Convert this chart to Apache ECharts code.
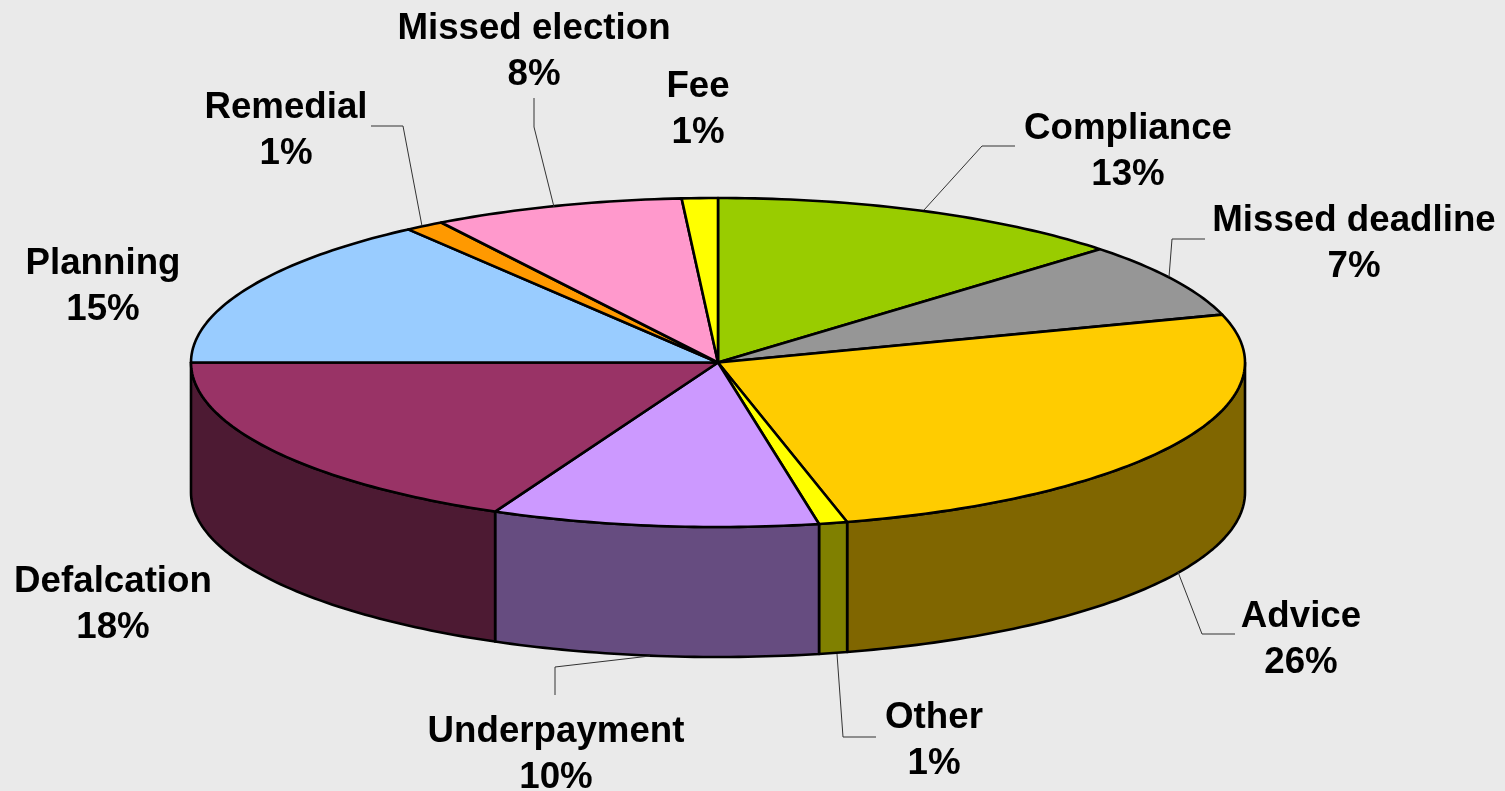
<!DOCTYPE html>
<html>
<head>
<meta charset="utf-8">
<title>Claims by type</title>
<style>
  html, body { margin: 0; padding: 0; background: #eaeaea; }
  #chart { width: 1505px; height: 791px; }
</style>
<script src="https://cdn.jsdelivr.net/npm/echarts@6/dist/echarts.min.js"></script>
</head>
<body>
<div id="chart"></div>
<script>
// clockwise from 12 o'clock, shares (labels show them rounded)
const categories = ['Compliance', 'Missed deadline', 'Advice', 'Other', 'Underpayment', 'Defalcation', 'Planning', 'Remedial', 'Missed election', 'Fee'];
const shares = [12.9, 7.4, 25.76, 0.87, 10.02, 18.05, 15, 1.2, 7.7, 1.1];
const topColors = ['#99cc00', '#969696', '#ffcc00', '#ffff00', '#cc99ff', '#993366', '#99ccff', '#ff9900', '#ff99cc', '#ffff00'];
const wallColors = ['#4d6600', '#4b4b4b', '#806600', '#808000', '#664c80', '#4d1a33', '#4d6680', '#804c00', '#804c66', '#808000'];

// pie geometry, pixels
const cx = 718, cy = 362.5, rx = 527, ry = 164.5, depth = 130;

// label centres and leader lines, pixels
const labelCentres = [[1128, 152], [1354, 244], [1301, 640], [934, 741], [556, 755], [113, 605], [103, 287], [286, 131], [534, 52], [698, 110]];
const leaders = [
    [[1015, 146], [982, 146], [924, 210]],
    [[1205, 239], [1172, 239], [1169, 277]],
    [[1235, 634], [1202, 634], [1178, 572]],
    [[876, 737], [843, 737], [837, 654]],
    [[555, 695], [555, 667], [650, 656]],
    null,
    null,
    [[371, 126], [403, 126], [422, 226]],
    [[534, 98], [534, 127], [554, 207]],
    null
];

const total = shares.reduce((a, b) => a + b, 0);
let running = 0;
const sliceData = shares.map((v, i) => {
    const start = running / total * 360;
    running += v;
    return [start, running / total * 360, i];
});

function rimPoint(deg, drop) {
    const a = deg * Math.PI / 180;
    return [cx + rx * Math.sin(a), cy - ry * Math.cos(a) + drop];
}

function arc(from, to, drop) {
    const pts = [];
    const steps = Math.max(2, Math.ceil(Math.abs(to - from)));
    for (let s = 0; s <= steps; s++) {
        pts.push(rimPoint(from + (to - from) * s / steps, drop));
    }
    return pts;
}

// front wall only exists between 90 and 270 degrees
function renderWall(params, api) {
    const i = api.value(2);
    const from = Math.max(api.value(0), 90);
    const to = Math.min(api.value(1), 270);
    if (to <= from) return null;
    return {
        type: 'polygon',
        shape: { points: arc(from, to, 0).concat(arc(to, from, depth)) },
        style: { fill: wallColors[i], stroke: '#000', lineWidth: 2.6, lineJoin: 'round' }
    };
}

function renderTop(params, api) {
    const i = api.value(2);
    return {
        type: 'polygon',
        shape: { points: [[cx, cy]].concat(arc(api.value(0), api.value(1), 0)) },
        style: { fill: topColors[i], stroke: '#000', lineWidth: 2.6, lineJoin: 'round' }
    };
}

function renderLabel(params, api) {
    const i = api.value(2);
    const children = [{
        type: 'text',
        style: {
            x: labelCentres[i][0],
            y: labelCentres[i][1],
            text: categories[i] + '\n' + Math.round(shares[i]) + '%',
            font: 'bold 36.7px "Liberation Sans", Arial, sans-serif',
            lineHeight: 46,
            fill: '#000',
            align: 'center',
            verticalAlign: 'middle'
        }
    }];
    if (leaders[i]) {
        children.push({
            type: 'polyline',
            shape: { points: leaders[i] },
            style: { fill: 'none', stroke: '#333', lineWidth: 1 }
        });
    }
    return { type: 'group', children: children };
}

const myChart = echarts.init(document.getElementById('chart'), null, { renderer: 'canvas' });

const option = {
    backgroundColor: '#eaeaea',
    animation: false,
    series: [
        { type: 'custom', coordinateSystem: 'none', renderItem: renderWall, data: sliceData, silent: true, z: 1 },
        { type: 'custom', coordinateSystem: 'none', renderItem: renderTop, data: sliceData, silent: true, z: 2 },
        { type: 'custom', coordinateSystem: 'none', renderItem: renderLabel, data: sliceData, silent: true, z: 3 }
    ]
};

myChart.setOption(option);
</script>
</body>
</html>
